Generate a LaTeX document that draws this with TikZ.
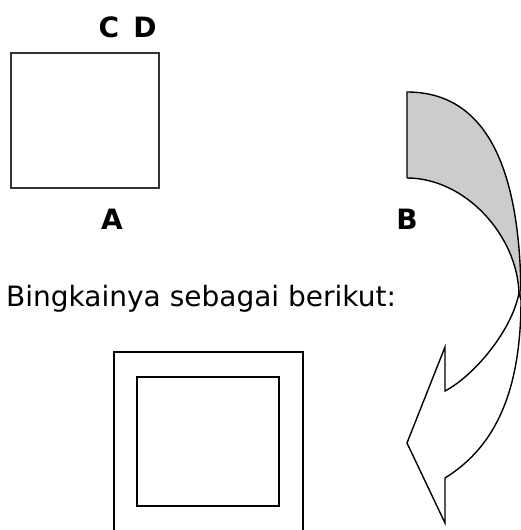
\documentclass[tikz,border=0pt]{standalone}
\usepackage{fontspec}
\setmainfont{DejaVu Sans}
\usetikzlibrary{positioning}
\begin{document}
\begin{tikzpicture}
[x=1pt, y=-1pt, node distance=36pt, font=\fontsize{28}{32}\selectfont]
\tikzstyle{letter}=[font=\fontsize{28}{32}\selectfont\bfseries, inner sep=0pt]
\tikzstyle{frame}=[draw, line width=1.8pt]
\tikzstyle{arrowline}=[draw, line width=1.4pt, line join=miter]
\useasboundingbox (0,0) rectangle (521,530);
\clip (0,0) rectangle (521,530);

% the picture and its corners
\draw[frame, draw=black!80, line width=2.2pt] (11,53) rectangle (159,188);
\node[letter]	(C)	at (109,27)	{C};
\node[letter]	(D)	[right of=C]	{D};
\node[letter]	(A)	at (112,219)	{A};
\node[letter]	(B)	at (407,219)	{B};

\node[anchor=base west, inner sep=0pt]	(caption)	at (6,306)	{Bingkainya sebagai berikut:};

% the frame
\draw[frame] (114,540) -- (114,352) -- (303,352) -- (303,540);
\draw[frame] (137,377) rectangle (279,506);

% the curved arrow
\fill[gray!40] (407,92) .. controls (482,92) and (521,160) .. (521,300)
  -- (519,293) .. controls (517,235) and (465,178) .. (407,178) -- cycle;
\draw[arrowline] (407,178) -- (407,92) .. controls (482,92) and (521,160) .. (521,300);
\draw[arrowline] (407,178) .. controls (465,178) and (517,235) .. (519,293);
\draw[arrowline, fill=white] (519,293) .. controls (512,330) and (475,375) .. (445,391)
  -- (445,347) -- (407,443) -- (445,523) -- (445,478)
  .. controls (490,450) and (521,400) .. (521,300) -- cycle;
\end{tikzpicture}
\end{document}
